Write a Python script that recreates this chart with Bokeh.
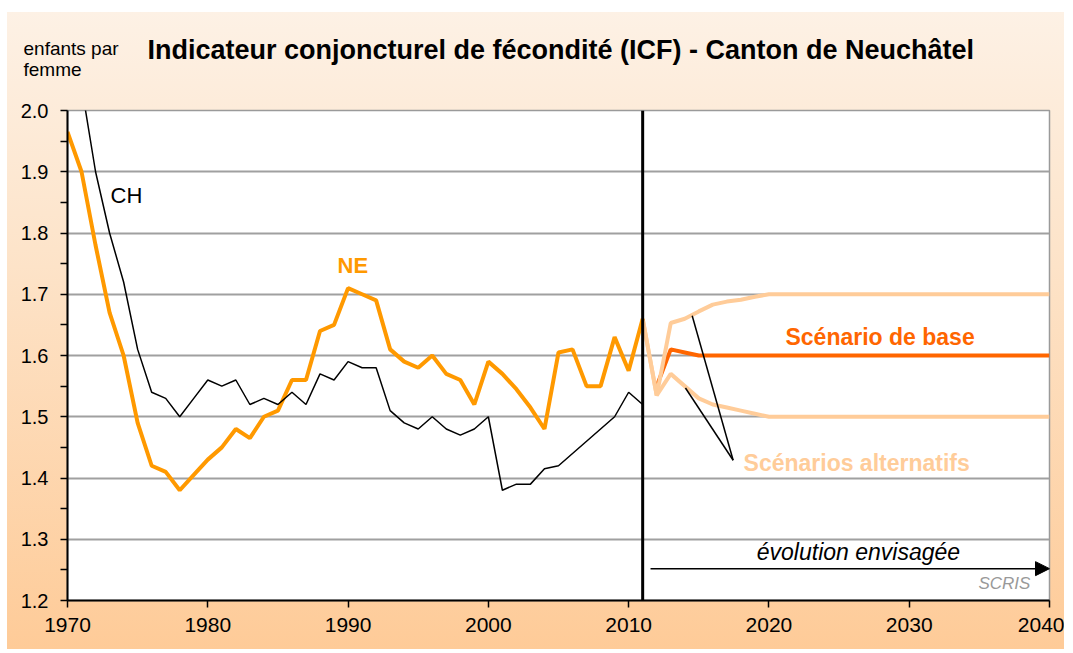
from bokeh.plotting import figure
from bokeh.models import Label, Span, Arrow, NormalHead, FixedTicker, CustomJSTickFormatter
from bokeh.layouts import column
from bokeh.embed import file_html
from bokeh.resources import INLINE

# ---- data ----
years_hist = list(range(1970, 2012))
ch = [2.10, 2.04, 1.90, 1.80, 1.72, 1.61, 1.54, 1.53, 1.50, 1.53,
      1.56, 1.55, 1.56, 1.52, 1.53, 1.52, 1.54, 1.52, 1.57, 1.56,
      1.59, 1.58, 1.58, 1.51, 1.49, 1.48, 1.50, 1.48, 1.47, 1.48,
      1.50, 1.38, 1.39, 1.39, 1.415, 1.42, 1.44, 1.46, 1.48, 1.50,
      1.54, 1.52]
ne = [1.965, 1.90, 1.78, 1.67, 1.60, 1.49, 1.42, 1.41, 1.38, 1.405,
      1.43, 1.45, 1.48, 1.465, 1.50, 1.51, 1.56, 1.56, 1.64, 1.65,
      1.71, 1.70, 1.69, 1.61, 1.59, 1.58, 1.60, 1.57, 1.56, 1.52,
      1.59, 1.57, 1.545, 1.515, 1.48, 1.605, 1.61, 1.55, 1.55, 1.63,
      1.575, 1.66]

years_alt = list(range(2011, 2041))
alt_high = [1.66, 1.535, 1.653, 1.66, 1.672, 1.683, 1.688, 1.691, 1.696, 1.70] + [1.70] * 20
alt_low = [1.66, 1.535, 1.57, 1.55, 1.53, 1.52, 1.515, 1.51, 1.505, 1.50] + [1.50] * 20
years_base = list(range(2012, 2041))
base = [1.55, 1.61, 1.605, 1.60] + [1.60] * 25

x_ticks = [1970, 1980, 1990, 2000, 2010, 2020, 2030, 2040]
y_ticks = [1.2, 1.3, 1.4, 1.5, 1.6, 1.7, 1.8, 1.9, 2.0]
y_minor = [1.25, 1.35, 1.45, 1.55, 1.65, 1.75, 1.85, 1.95]

title_text = "Indicateur conjoncturel de fécondité (ICF) - Canton de Neuchâtel"
unit_lines = ["enfants par", "femme"]

ORANGE = "#FF9900"
BASE = "#FF6600"
PEACH = "#FFCC99"
FONT = "Liberation Sans"
W = 1057

# ---- header figure (title + unit) ----
head = figure(width=W, height=88, x_range=(0, W), y_range=(0, 88),
              output_backend="svg", toolbar_location=None,
              min_border_left=0, min_border_right=0, min_border_top=0, min_border_bottom=0)
head.frame_align = False
head.axis.visible = False
head.grid.visible = False
head.outline_line_color = None
head.border_fill_color = None
head.background_fill_color = None
head.add_layout(Label(x=140, y=51, text=title_text, text_font=FONT, text_font_size="27px",
                      text_font_style="bold", text_color="black", text_baseline="alphabetic"))
head.add_layout(Label(x=16, y=52, text=unit_lines[0], text_font=FONT, text_font_size="19px",
                      text_color="black", text_baseline="alphabetic"))
head.add_layout(Label(x=16, y=31, text=unit_lines[1], text_font=FONT, text_font_size="19px",
                      text_color="black", text_baseline="alphabetic"))

# ---- main figure ----
p = figure(width=W, height=549, x_range=(1970, 2040), y_range=(1.2, 2.0),
           output_backend="svg", toolbar_location=None,
           min_border_left=60, min_border_right=15, min_border_top=10, min_border_bottom=49)
p.frame_align = False
p.border_fill_color = None
p.background_fill_color = "white"
p.outline_line_color = "#9a9a9a"
p.outline_line_width = 1.5

p.xgrid.visible = False
p.ygrid.ticker = FixedTicker(ticks=y_ticks)
p.ygrid.grid_line_color = "#a0a0a0"
p.ygrid.grid_line_width = 2

p.xaxis.ticker = FixedTicker(ticks=x_ticks)
p.yaxis.ticker = FixedTicker(ticks=y_ticks, minor_ticks=y_minor)
p.yaxis.formatter = CustomJSTickFormatter(code="return tick.toFixed(1);")
for ax in (p.xaxis, p.yaxis):
    ax.axis_line_color = "black"
    ax.axis_line_width = 2
    ax.major_tick_line_color = "black"
    ax.major_tick_line_width = 1.5
    ax.major_tick_out = 7
    ax.major_tick_in = 0
    ax.major_label_text_font = FONT
    ax.major_label_text_color = "black"
p.yaxis.major_label_text_font_size = "20px"
p.xaxis.major_label_text_font_size = "21px"
p.yaxis.minor_tick_line_color = "black"
p.yaxis.minor_tick_line_width = 1.5
p.yaxis.minor_tick_out = 7
p.yaxis.minor_tick_in = 0
p.xaxis.minor_tick_line_color = None
p.xaxis.major_label_standoff = 10
p.yaxis.major_label_standoff = 12

p.line(years_base, base, line_color=BASE, line_width=4)
p.line(years_alt, alt_high, line_color=PEACH, line_width=4)
p.line(years_alt, alt_low, line_color=PEACH, line_width=4)
p.line(years_hist, ne, line_color=ORANGE, line_width=4)
p.line(years_hist, ch, line_color="black", line_width=1.5)

# leader lines to "Scénarios alternatifs"
p.segment(x0=[2014.53, 2014.05], y0=[1.665, 1.547], x1=[2017.45, 2017.45], y1=[1.429, 1.429],
          line_color="black", line_width=1.5)

p.add_layout(Span(location=2011, dimension="height", line_color="black", line_width=3))

p.add_layout(Arrow(x_start=2011.56, y_start=1.252, x_end=2040, y_end=1.252,
                   line_color="black", line_width=1.5,
                   end=NormalHead(size=14, fill_color="black", line_color="black")))

def lab(x, y, text, size, color="black", style="normal", align="left"):
    p.add_layout(Label(x=x, y=y, text=text, text_font=FONT, text_font_size=size,
                       text_color=color, text_font_style=style, text_align=align,
                       text_baseline="middle"))

lab(1973.07, 1.861, "CH", "22px")
lab(1989.25, 1.747, "NE", "22px", color=ORANGE, style="bold")
lab(2021.18, 1.631, "Scénario de base", "23px", color=BASE, style="bold")
lab(2018.19, 1.425, "Scénarios alternatifs", "23px", color=PEACH, style="bold")
lab(2026.38, 1.28, "évolution envisagée", "23px", style="italic", align="center")
lab(2038.64, 1.228, "SCRIS", "17px", color="#999999", style="italic", align="right")

layout = column(head, p, spacing=0)
layout.styles = {"background": "linear-gradient(180deg, #FDF1E5 0%, #FDE3C8 40%, #FECB98 100%)",
                 "margin-top": "12px", "margin-left": "7px"}

open("out.html", "w").write(file_html(layout, INLINE))
